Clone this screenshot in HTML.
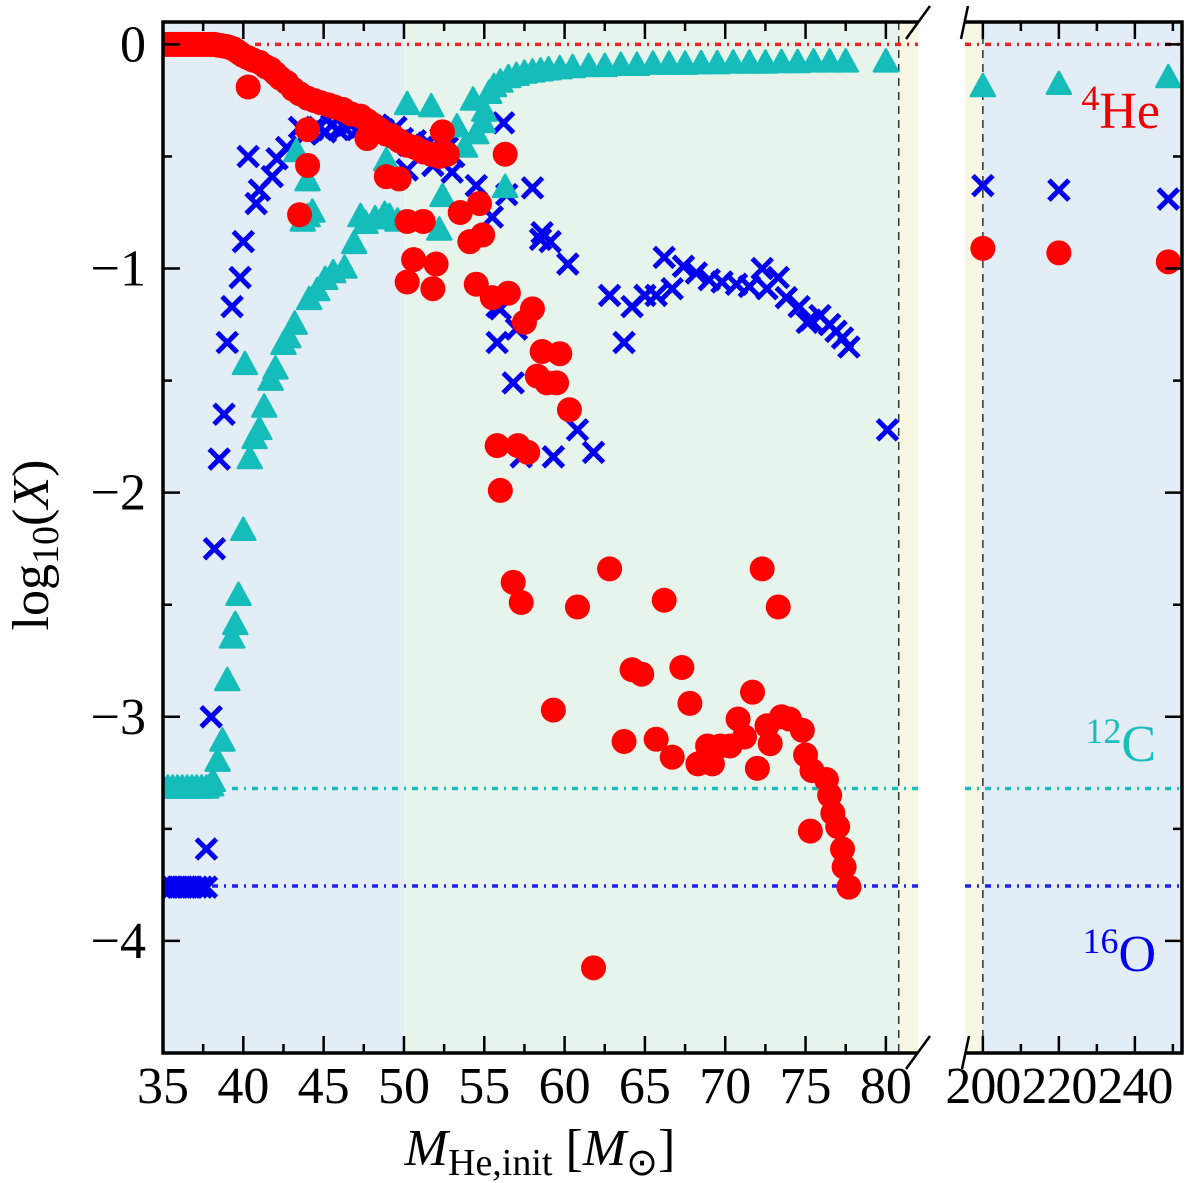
<!DOCTYPE html>
<html><head><meta charset="utf-8"><style>
html,body{margin:0;padding:0;background:#fff;}
svg{display:block;font-family:"Liberation Serif",serif;}
</style></head><body>
<svg id="chart" width="1200" height="1183" viewBox="0 0 1200 1183" xmlns="http://www.w3.org/2000/svg"></svg>
<script>
// ---------------- data ----------------
const yTicks = [0, -1, -2, -3, -4];
const yTickLabels = ["0", "\u22121", "\u22122", "\u22123", "\u22124"];
const xTicksLeft = [35, 40, 45, 50, 55, 60, 65, 70, 75, 80];
const xTicksRight = [200, 220, 240];
const refHe = 0.0, refC = -3.32, refO = -3.755;

const heX = [35,35.2,35.4,35.6,35.8,36,36.2,36.4,36.6,36.8,37,37.2,37.4,37.6,37.8,38,38.2,38.4,38.6,38.8,39,39.2,39.4,39.6,39.8,
 40.0,40.3,40.6,41.0,41.4,41.7,42.0,42.3,42.7,43.1,43.5,44.0,44.4,44.8,45.3,45.7,46.2,46.7,47.3,47.7,48.1,48.5,48.9,49.3,49.7,50.2,50.7,51.2,51.7,52.2,
 40.3,44.0,43.5,44.0,47.7,48.9,49.7,52.4,52.7,56.3,50.2,51.2,50.6,52.0,50.2,51.8,53.5,54.7,54.1,54.9,54.5,55.5,56.5,58.0,57.5,58.6,59.7,58.3,58.9,59.5,60.3,
 55.8,57.1,57.7,56.0,56.8,57.3,60.8,62.8,59.3,64.2,64.8,66.2,67.3,67.8,72.3,73.3,71.7,63.7,65.7,66.7,68.3,68.9,69.2,69.7,70.3,70.8,71.2,72.0,72.6,72.8,
 73.5,74.0,74.8,75.0,75.4,76.3,76.5,76.7,77.0,75.3,77.3,77.4,77.7,61.8,
 200,220,248.8];
const heY = [0,0,0,0,0,0,0,0,0,0,0,0,0,0,0,0,0,-0.003,-0.005,-0.008,-0.01,-0.015,-0.02,-0.03,-0.04,
 -0.05,-0.06,-0.07,-0.08,-0.10,-0.11,-0.13,-0.15,-0.17,-0.20,-0.22,-0.24,-0.25,-0.26,-0.27,-0.28,-0.29,-0.31,-0.32,-0.34,-0.36,-0.38,-0.40,-0.41,-0.43,-0.45,-0.46,-0.48,-0.49,-0.50,
 -0.19,-0.54,-0.76,-0.38,-0.42,-0.59,-0.60,-0.39,-0.49,-0.49,-0.79,-0.79,-0.96,-0.98,-1.06,-1.09,-0.75,-0.71,-0.88,-0.85,-1.07,-1.13,-1.11,-1.18,-1.24,-1.37,-1.38,-1.48,-1.51,-1.51,-1.63,
 -1.79,-1.79,-1.82,-1.99,-2.40,-2.49,-2.51,-2.34,-2.97,-2.79,-2.81,-2.48,-2.78,-2.94,-2.34,-2.51,-2.89,-3.11,-3.10,-3.18,-3.21,-3.13,-3.21,-3.13,-3.13,-3.01,-3.09,-3.23,-3.04,-3.12,
 -3.00,-3.01,-3.06,-3.17,-3.24,-3.28,-3.35,-3.43,-3.49,-3.51,-3.59,-3.67,-3.76,-4.12,
 -0.91,-0.93,-0.97];

const cX = [35,35.3,35.6,35.9,36.2,36.5,36.8,37.1,37.4,37.7,38.0,38.1,38.4,38.7,39.0,39.3,39.5,39.7,40.0,40.1,40.4,40.7,41.0,41.3,41.7,42.0,42.5,42.8,43.2,43.3,43.7,44.0,44.0,44.3,44.1,44.6,45.1,45.6,46.3,46.9,47.3,47.6,48.2,48.8,48.9,49.1,49.6,50.2,51.7,52.2,52.4,53.3,54.3,54.9,56.3,
 53.8,54.5,55.0,55.3,
 55.6,56.0,56.5,57.0,57.5,58.0,58.5,59.0,59.7,60.5,61.5,62.5,63.5,64.5,65.5,66.5,67.5,68.5,69.5,70.5,71.5,72.5,73.5,74.5,75.5,76.5,77.5,80.0,
 200,220,248.8];
const cY = [-3.32,-3.32,-3.32,-3.32,-3.32,-3.32,-3.32,-3.32,-3.32,-3.32,-3.31,-3.29,-3.2,-3.11,-2.84,-2.65,-2.59,-2.46,-2.17,-1.43,-1.85,-1.76,-1.72,-1.62,-1.50,-1.45,-1.34,-1.31,-1.25,-0.48,-0.79,-0.61,-0.77,-0.75,-1.14,-1.10,-1.05,-1.02,-1.00,-0.89,-0.77,-0.80,-0.78,-0.76,-0.52,-0.77,-0.79,-0.27,-0.28,-0.83,-0.68,-0.37,-0.25,-0.35,-0.64,
 -0.46,-0.40,-0.30,-0.22,
 -0.19,-0.17,-0.15,-0.14,-0.13,-0.125,-0.12,-0.115,-0.11,-0.105,-0.10,-0.10,-0.095,-0.095,-0.09,-0.09,-0.09,-0.088,-0.088,-0.085,-0.085,-0.085,-0.083,-0.083,-0.08,-0.08,-0.08,-0.08,
 -0.19,-0.18,-0.15];

const oX = [35,35.3,35.6,35.9,36.2,36.5,36.8,37.1,37.4,37.7,37.7,38.0,38.2,38.5,38.8,39.0,39.3,39.8,40.0,40.8,41.0,40.3,41.8,42.1,42.7,43.5,
 43.9,44.3,44.7,45.1,45.5,45.9,46.3,46.7,47.1,47.5,47.9,48.3,48.7,49.1,49.5,49.9,50.3,50.7,51.1,51.5,51.9,52.3,52.7,53.1,
 56.2,50.2,51.8,53.0,54.5,55.5,56.4,58.0,58.6,59.1,55.8,55.8,58.5,60.2,56.0,57.0,56.8,60.8,61.8,59.3,57.3,
 62.8,63.7,64.2,65.0,65.7,66.7,66.2,67.4,68.2,69.0,69.8,70.7,71.5,72.3,72.6,73.3,73.8,74.6,75.1,75.3,75.9,76.5,76.9,77.3,77.7,80.1,
 200,220,248.8];
const oY = [-3.76,-3.76,-3.76,-3.76,-3.76,-3.76,-3.76,-3.76,-3.76,-3.76,-3.59,-3.0,-2.25,-1.85,-1.65,-1.33,-1.17,-1.04,-0.88,-0.71,-0.65,-0.50,-0.59,-0.51,-0.46,-0.37,
 -0.40,-0.38,-0.37,-0.39,-0.36,-0.38,-0.37,-0.36,-0.38,-0.35,-0.37,-0.36,-0.38,-0.40,-0.37,-0.42,-0.45,-0.43,-0.46,-0.44,-0.48,-0.42,-0.46,-0.50,
 -0.35,-0.56,-0.54,-0.57,-0.63,-0.77,-0.67,-0.64,-0.84,-0.88,-1.17,-1.33,-0.87,-0.98,-1.18,-1.27,-1.51,-1.72,-1.82,-1.84,-1.84,
 -1.12,-1.33,-1.17,-1.12,-1.12,-1.09,-0.95,-0.99,-1.02,-1.05,-1.06,-1.07,-1.08,-1.00,-1.09,-1.04,-1.13,-1.17,-1.24,-1.23,-1.21,-1.25,-1.28,-1.31,-1.35,-1.72,
 -0.63,-0.65,-0.69];

// ---------------- layout ----------------
const NS = "http://www.w3.org/2000/svg";
const svg = document.getElementById("chart");
const TOP = 22, BOT = 1053;
const L = {x0:163, x1:918, d0:35, d1:82.0};
const R = {x0:965, x1:1182, d0:195.3, d1:252.4};
const yMax = 0.1, yMin = -4.5;
const sy = v => TOP + (yMax - v) / (yMax - yMin) * (BOT - TOP);
const sxL = v => L.x0 + (v - L.d0) / (L.d1 - L.d0) * (L.x1 - L.x0);
const sxR = v => R.x0 + (v - R.d0) / (R.d1 - R.d0) * (R.x1 - R.x0);

function mk(tag, attrs, parent){
  const e = document.createElementNS(NS, tag);
  for (const k in attrs) e.setAttribute(k, attrs[k]);
  (parent || svg).appendChild(e);
  return e;
}

const defs = mk("defs", {});
const cpL = mk("clipPath", {id:"clipL"}, defs); mk("rect", {x:L.x0, y:TOP, width:L.x1-L.x0, height:BOT-TOP}, cpL);
const cpR = mk("clipPath", {id:"clipR"}, defs); mk("rect", {x:R.x0, y:TOP, width:R.x1-R.x0, height:BOT-TOP}, cpR);

const bgBlueL = mk("rect", {x:L.x0, y:TOP, width:sxL(50)-L.x0, height:BOT-TOP, fill:"#e3edf6"});


const bgGreen = mk("rect", {x:sxL(50), y:TOP, width:sxL(80.8)-sxL(50), height:BOT-TOP, fill:"#e6f4ec"});


const bgYelL = mk("rect", {x:sxL(80.8), y:TOP, width:L.x1-sxL(80.8), height:BOT-TOP, fill:"#f7f7e4"});


const bgYelR = mk("rect", {x:R.x0, y:TOP, width:sxR(200)-R.x0, height:BOT-TOP, fill:"#f7f7e4"});


const bgBlueR = mk("rect", {x:sxR(200), y:TOP, width:R.x1-sxR(200), height:BOT-TOP, fill:"#e3edf6"});



const dl1 = mk("line", {x1:sxL(80.8), x2:sxL(80.8), y1:TOP, y2:BOT, stroke:"#333", "stroke-width":1.5, "stroke-dasharray":"8,6"});


const dl2 = mk("line", {x1:sxR(200), x2:sxR(200), y1:TOP, y2:BOT, stroke:"#333", "stroke-width":1.5, "stroke-dasharray":"8,6"});



function refLine(v, color, xs, xe, name){
  const ln = mk("line", {x1:xs, x2:xe, y1:sy(v), y2:sy(v), stroke:color, "stroke-width":3.5, "stroke-dasharray":"6,6,2,6"});
  
  
}
refLine(refHe, "#ee2222", 255, L.x1, "he4-reference-left");
refLine(refHe, "#ee2222", R.x0, R.x1, "he4-reference-right");
refLine(refC, "#17bebb", 232, L.x1, "c12-reference-left");
refLine(refC, "#17bebb", R.x0, R.x1, "c12-reference-right");
refLine(refO, "#2222ee", 212, L.x1, "o16-reference-left");
refLine(refO, "#2222ee", R.x0, R.x1, "o16-reference-right");

const gL = mk("g", {"clip-path":"url(#clipL)"});


const gR = mk("g", {"clip-path":"url(#clipR)"});


function place(xv){ return xv > 150 ? [gR, sxR(xv)] : [gL, sxL(xv)]; }

for (let i = 0; i < oX.length; i++){
  const [g, cx] = place(oX[i]); const cy = sy(oY[i]); const s = 10;
  const p = mk("path", {d:`M${cx-s},${cy-s}L${cx+s},${cy+s}M${cx-s},${cy+s}L${cx+s},${cy-s}`, stroke:"#0000ee", "stroke-width":5, fill:"none"}, g);
  
  
}
for (let i = 0; i < cX.length; i++){
  const [g, cx] = place(cX[i]); const cy = sy(cY[i]);
  const p = mk("path", {d:`M${cx},${cy-13}L${cx+12},${cy+9}L${cx-12},${cy+9}Z`, fill:"#14bdb9", stroke:"#14bdb9", "stroke-width":2.5, "stroke-linejoin":"round"}, g);
  
  
}
for (let i = 0; i < heX.length; i++){
  const [g, cx] = place(heX[i]); const cy = sy(heY[i]);
  const c = mk("circle", {cx:cx, cy:cy, r:12.5, fill:"#ff0000"}, g);
  
  
}

const ax = mk("g", {stroke:"#000", "stroke-width":3.5, fill:"none"});


mk("path", {d:`M${L.x1},${TOP}H${L.x0}V${BOT}H${L.x1}`}, ax);
mk("path", {d:`M${R.x0},${TOP}H${R.x1}V${BOT}H${R.x0}`}, ax);
const bk = mk("g", {stroke:"#000", "stroke-width":2.5});


mk("line", {x1:906, y1:39, x2:930, y2:6}, bk);
mk("line", {x1:961, y1:39, x2:968, y2:6}, bk);
mk("line", {x1:906, y1:1069, x2:930, y2:1036}, bk);
mk("line", {x1:962, y1:1069, x2:969, y2:1036}, bk);

const tk = mk("g", {stroke:"#000", "stroke-width":2.5});


for (let v = 35; v <= 81; v += 2.5){
  const x = sxL(v); const len = (v % 5 === 0) ? 17 : 9;
  mk("line", {x1:x, x2:x, y1:BOT, y2:BOT-len}, tk);
  mk("line", {x1:x, x2:x, y1:TOP, y2:TOP+len}, tk);
}
for (let v = 200; v <= 250; v += 10){
  const x = sxR(v); const len = (v % 20 === 0) ? 17 : 9;
  mk("line", {x1:x, x2:x, y1:BOT, y2:BOT-len}, tk);
  mk("line", {x1:x, x2:x, y1:TOP, y2:TOP+len}, tk);
}
for (let v = 0; v >= -4.5; v -= 0.5){
  const y = sy(v); const len = (Math.abs(v % 1) < 1e-9) ? 17 : 9;
  mk("line", {x1:L.x0, x2:L.x0+len, y1:y, y2:y}, tk);
  mk("line", {x1:R.x1, x2:R.x1-len, y1:y, y2:y}, tk);
}

for (let i = 0; i < yTicks.length; i++){
  const t = mk("text", {x:146, y:sy(yTicks[i])+17, "text-anchor":"end", "font-size":52, fill:"#000"});
  t.textContent = yTickLabels[i];
  
  
}
for (const v of xTicksLeft){
  const t = mk("text", {x:sxL(v), y:1103, "text-anchor":"middle", "font-size":52, fill:"#000"});
  t.textContent = String(v);
  
  
}
for (const v of xTicksRight){
  const t = mk("text", {x:sxR(v), y:1103, "text-anchor":"middle", "font-size":52, fill:"#000", "letter-spacing":"-1"});
  t.textContent = String(v);
  
  
}

const xt = mk("text", {x:540, y:1165, "text-anchor":"middle", "font-size":52, fill:"#000"});


xt.innerHTML = '<tspan font-style="italic">M</tspan><tspan font-size="38" dy="10">He,init</tspan><tspan dy="-10"> [</tspan><tspan font-style="italic">M</tspan><tspan font-size="38" dy="10">\u2299</tspan><tspan dy="-10">]</tspan>';
const yt = mk("text", {x:0, y:0, "text-anchor":"middle", "font-size":52, fill:"#000", transform:"translate(48,545) rotate(-90)"});


yt.innerHTML = 'log<tspan font-size="38" dy="10">10</tspan><tspan dy="-10">(</tspan><tspan font-style="italic">X</tspan>)';

function lab(x, y, sup, main, color, name){
  const t = mk("text", {x:x, y:y, "text-anchor":"end", "font-size":52, fill:color});
  t.innerHTML = `<tspan font-size="36" dy="-18">${sup}</tspan><tspan dy="18">${main}</tspan>`;
  
  
}
lab(1160, 128, "4", "He", "#ee0000", "he4-label");
lab(1156, 761, "12", "C", "#17bebb", "c12-label");
lab(1156, 971, "16", "O", "#0000ee", "o16-label");
</script>
</body></html>
